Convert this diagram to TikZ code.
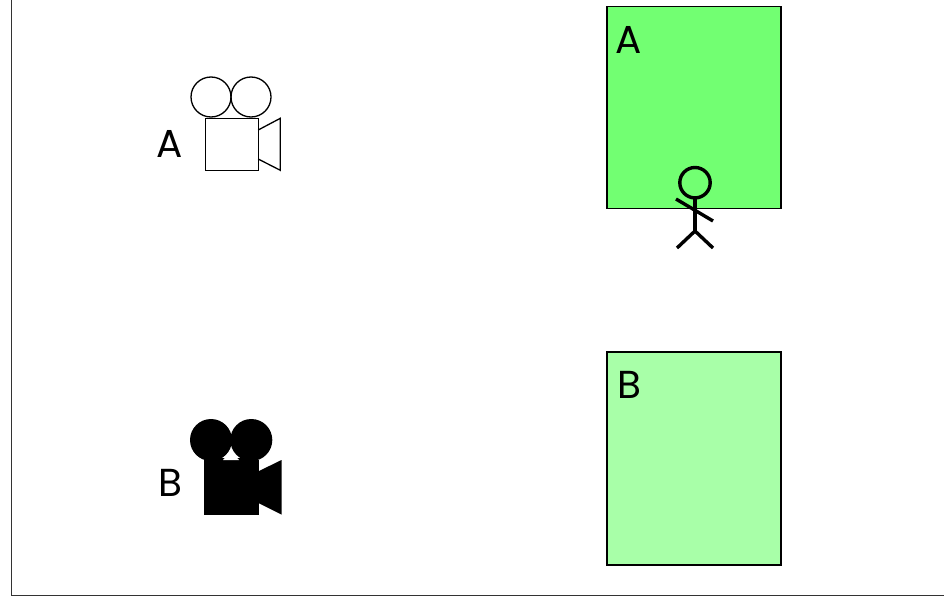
\documentclass[tikz,border=0pt]{standalone}
\usepackage{fontspec}
\setmainfont{Poppins}
\definecolor{areaA}{HTML}{72FF72}
\definecolor{areaB}{HTML}{A8FFA8}
\tikzset{
  lab/.style={font=\fontsize{39}{39}\selectfont, inner sep=0pt, anchor=base},
  area/.style={draw=black, line width=1.1pt},
  cam/.style={draw=black, line width=1.3pt, line join=miter},
  fig/.style={draw=black, line width=3.4pt, line cap=butt}
}
\begin{document}
\begin{tikzpicture}[x=1pt,y=-1pt]
\useasboundingbox (0,0) rectangle (944,597);
\fill[white] (0,0) rectangle (944,597);
% frame
\draw[line width=1pt, black!80] (11.5,0) -- (11.5,595.5) -- (944,595.5);
% camera A
\draw[cam] (211,97) circle (20);
\draw[cam] (251,97) circle (20);
\draw[cam] (205.2,118.2) rectangle (258.2,170.7);
\draw[cam] (258.2,130) -- (280.3,118.3) -- (280.3,170.3) -- (258.2,159);
\node[lab] (labA) at (169.5,157) {A};
% camera B
\fill (211,440) circle (21);
\fill (251.3,440) circle (21);
\fill (204,460) rectangle (259,514.5);
\fill (259,471) -- (281.5,460) -- (281.5,514.5) -- (259,503.3) -- cycle;
\fill (215,458) rectangle (247,461);
\fill[white] (231,451.7) -- (239,460) -- (223,460) -- cycle;
\node[lab] (labB) at (170.5,496) {B};
% areas
\draw[area, fill=areaA] (607,6.5) rectangle (781,208.5);
\draw[area, fill=areaB] (607,352) rectangle (781,565);
\node[lab] (areaLabA) at (629,53) {A};
\node[lab] (areaLabB) at (629,398) {B};
% person
\draw[fig] (695,182.7) circle (15.2);
\draw[fig] (695,198) -- (695,231);
\draw[fig] (677,248) -- (695,231) -- (713,248);
\draw[fig] (676,199) -- (713,221);
\end{tikzpicture}
\end{document}
